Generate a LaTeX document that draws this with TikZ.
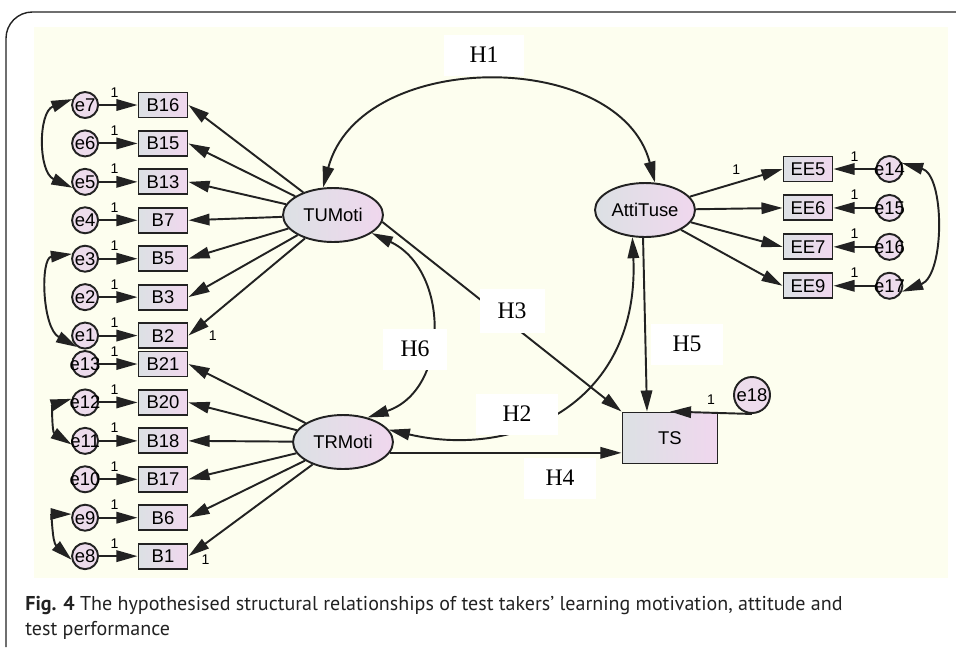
\documentclass[tikz,border=0pt]{standalone}
\usepackage{fontspec}
\setmainfont{Liberation Sans}
\newfontfamily\hypfont{Liberation Serif}
\newfontfamily\capfont{PT Sans}
\usetikzlibrary{arrows.meta,positioning,calc,shapes.geometric}

\definecolor{cream}{HTML}{FDFEEF}
\definecolor{lgray}{HTML}{DCE1E4}
\definecolor{lpink}{HTML}{F0D7EE}
\definecolor{epink}{HTML}{EDDCEC}
\definecolor{edge}{HTML}{222222}

\tikzset{
  obs/.style={draw=edge, line width=1.1pt, rectangle, left color=lgray, right color=lpink,
    minimum width=0.98cm, minimum height=0.5cm, inner sep=0pt, font=\fontsize{10.5}{12}\selectfont},
  lat/.style={draw=edge, line width=1.1pt, ellipse, left color=lgray, right color=lpink,
    minimum width=2cm, minimum height=1.08cm, inner sep=0pt, font=\fontsize{10.5}{12}\selectfont},
  err/.style={draw=edge, line width=1.1pt, circle, fill=epink, minimum size=0.52cm, inner sep=0pt},
  every label/.style={font=\fontsize{10.5}{12}\selectfont, inner sep=0pt},
  hyp/.style={fill=white, minimum width=1.45cm, minimum height=0.82cm, inner sep=0pt,
    font=\hypfont\fontsize{13.5}{15}\selectfont},
  one/.style={font=\fontsize{8}{9}\selectfont, inner sep=1pt},
  path/.style={draw=edge, line width=1.1pt, -{Triangle[length=12pt,width=6.5pt]}},
  cov/.style={draw=edge, line width=1.1pt, {Triangle[length=12pt,width=6.5pt]}-{Triangle[length=12pt,width=6.5pt]}},
}

\begin{document}
\begin{tikzpicture}[x=0.02cm, y=-0.02cm]
\useasboundingbox (0,0) rectangle (956,647);
\fill[cream] (34,27) rectangle (948,578);
\draw[edge, line width=0.8pt, rounded corners=15] (6,647) -- (6,12) -- (956,12);

% latent variables and outcome
\node[lat] (tum) at (333,215) {TUMoti};
\node[lat] (trm) at (343,442) {TRMoti};
\node[lat] (att) at (645,210) {AttiTuse};
\node[obs, minimum width=1.9cm, minimum height=1.02cm] (ts) at (670,438) {TS};
\node[err, minimum size=0.72cm, label=center:e18] (e18) at (752,395) {};

% TUMoti items
\node[obs] (b16) at (163,105) {B16};
\node[obs, below=0.23cm of b16] (b15) {B15};
\node[obs, below=0.23cm of b15] (b13) {B13};
\node[obs, below=0.23cm of b13] (b7) {B7};
\node[obs, below=0.23cm of b7] (b5) {B5};
\node[obs, below=0.23cm of b5] (b3) {B3};
\node[obs, below=0.23cm of b3] (b2) {B2};
\node[err, left=0.77cm of b16, label=center:e7] (e7) {};
\node[err, left=0.77cm of b15, label=center:e6] (e6) {};
\node[err, left=0.77cm of b13, label=center:e5] (e5) {};
\node[err, left=0.77cm of b7, label=center:e4] (e4) {};
\node[err, left=0.77cm of b5, label=center:e3] (e3) {};
\node[err, left=0.77cm of b3, label=center:e2] (e2) {};
\node[err, left=0.77cm of b2, label=center:e1] (e1) {};

% TRMoti items
\node[obs] (b21) at (163,364) {B21};
\node[obs, below=0.23cm of b21] (b20) {B20};
\node[obs, below=0.23cm of b20] (b18) {B18};
\node[obs, below=0.23cm of b18] (b17) {B17};
\node[obs, below=0.23cm of b17] (b6) {B6};
\node[obs, below=0.23cm of b6] (b1) {B1};
\node[err, left=0.77cm of b21, label=center:e13] (e13) {};
\node[err, left=0.77cm of b20, label=center:e12] (e12) {};
\node[err, left=0.77cm of b18, label=center:e11] (e11) {};
\node[err, left=0.77cm of b17, label=center:e10] (e10) {};
\node[err, left=0.77cm of b6, label=center:e9] (e9) {};
\node[err, left=0.77cm of b1, label=center:e8] (e8) {};

% AttiTuse items
\node[obs] (ee5) at (808,169) {EE5};
\node[obs, below=0.24cm of ee5] (ee6) {EE6};
\node[obs, below=0.24cm of ee6] (ee7) {EE7};
\node[obs, below=0.24cm of ee7] (ee9) {EE9};
\node[err, right=0.84cm of ee5, label=center:e14] (e14) {};
\node[err, right=0.84cm of ee6, label=center:e15] (e15) {};
\node[err, right=0.84cm of ee7, label=center:e16] (e16) {};
\node[err, right=0.84cm of ee9, label=center:e17] (e17) {};

% loadings
\draw[path] (tum) -- (b16.east);
\draw[path] (tum) -- (b15.east);
\draw[path] (tum) -- (b13.east);
\draw[path] (tum) -- (b7.east);
\draw[path] (tum) -- (b5.east);
\draw[path] (tum) -- (b3.east);
\draw[path] (tum) -- (b2.east) node[one, right=10pt] {1};
\draw[path] (trm) -- (b21.east);
\draw[path] (trm) -- (b20.east);
\draw[path] (trm) -- (b18.east);
\draw[path] (trm) -- (b17.east);
\draw[path] (trm) -- (b6.east);
\draw[path] (trm) -- (b1.east) node[one, right=6pt, yshift=-2pt] {1};
\draw[path] (att) -- node[one, pos=0.5, above=3pt] {1} (ee5.west);
\draw[path] (att) -- (ee6.west);
\draw[path] (att) -- (ee7.west);
\draw[path] (att) -- (ee9.west);

% errors
\draw[path] (e7) -- node[one, pos=0.4, above=3pt] {1} (b16);
\draw[path] (e6) -- node[one, pos=0.4, above=3pt] {1} (b15);
\draw[path] (e5) -- node[one, pos=0.4, above=3pt] {1} (b13);
\draw[path] (e4) -- node[one, pos=0.4, above=3pt] {1} (b7);
\draw[path] (e3) -- node[one, pos=0.4, above=3pt] {1} (b5);
\draw[path] (e2) -- node[one, pos=0.4, above=3pt] {1} (b3);
\draw[path] (e1) -- node[one, pos=0.4, above=3pt] {1} (b2);
\draw[path] (e13) -- node[one, pos=0.4, above=3pt] {1} (b21);
\draw[path] (e12) -- node[one, pos=0.4, above=3pt] {1} (b20);
\draw[path] (e11) -- node[one, pos=0.4, above=3pt] {1} (b18);
\draw[path] (e10) -- node[one, pos=0.4, above=3pt] {1} (b17);
\draw[path] (e9) -- node[one, pos=0.4, above=3pt] {1} (b6);
\draw[path] (e8) -- node[one, pos=0.4, above=3pt] {1} (b1);
\draw[path] (e14) -- node[one, pos=0.5, above=3pt] {1} (ee5);
\draw[path] (e15) -- node[one, pos=0.5, above=3pt] {1} (ee6);
\draw[path] (e16) -- node[one, pos=0.5, above=3pt] {1} (ee7);
\draw[path] (e17) -- node[one, pos=0.5, above=3pt] {1} (ee9);
\draw[path] (e18.south) -- node[one, pos=0.5, above=3pt] {1} (ts.north);

% error covariances
\draw[cov] (e7.155) .. controls (38,112) and (38,172) .. (e5.205);
\draw[cov] (e3.160) .. controls (40,258) and (42,328) .. (e1.235);
\draw[cov] (e12.165) .. controls (52,405) and (52,432) .. (e11.195);
\draw[cov] (e9.165) .. controls (52,514) and (52,542) .. (e8.195);
\draw[cov] (e14.25) .. controls (945,175) and (945,275) .. (e17.-25);

% hypotheses
\draw[cov] (tum.110) .. controls (360,48) and (620,48) .. (att.70);
\draw[cov] (tum.-25) .. controls (450,270) and (450,390) .. (trm.45);
\draw[cov] (att.245) .. controls (640,400) and (520,460) .. (trm.15);
\draw[path] (tum.-8) -- (ts.north west);
\draw[path] (trm.-13) -- (trm.-13 -| ts.west);
\draw[path] (att.266) -- ($(ts.north)+(-23,0)$);

\node[hyp, minimum width=1.6cm] (h1) at (484,55) {H1};
\node[hyp, minimum width=1.64cm] (h2) at (517,414) {H2};
\node[hyp, minimum width=1.3cm, minimum height=0.88cm] (h3) at (512,311) {H3};
\node[hyp] (h4) at (560,478) {H4};
\node[hyp] (h5) at (687,344) {H5};
\node[hyp, minimum width=1.28cm] (h6) at (415,349) {H6};

% caption
\node[anchor=west, inner sep=0pt, text=edge, font=\capfont\fontsize{11.4}{13}\selectfont] (cap1) at (25,605)
  {\textbf{Fig. 4} The hypothesised structural relationships of test takers’ learning motivation, attitude and};
\node[anchor=west, inner sep=0pt, text=edge, font=\capfont\fontsize{11.4}{13}\selectfont] (cap2) at (25,630)
  {test performance};
\end{tikzpicture}
\end{document}
